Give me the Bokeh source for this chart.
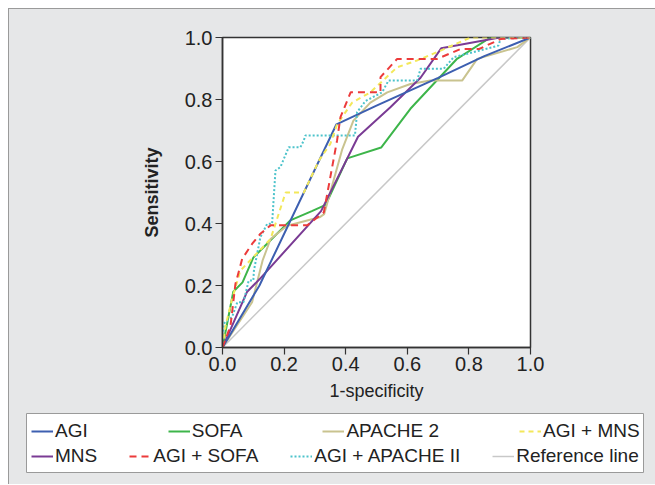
from bokeh.plotting import figure
from bokeh.layouts import column
from bokeh.models import Range1d, Legend, LegendItem, FixedTicker
from bokeh.embed import file_html
from bokeh.resources import INLINE

# ---- data ----
agi_x = [0.0, 0.03, 0.12, 0.37, 0.5, 0.7, 0.85, 1.0]
agi_y = [0.0, 0.05, 0.2, 0.72, 0.78, 0.87, 0.94, 1.0]

sofa_x = [0.0, 0.035, 0.065, 0.1, 0.16, 0.22, 0.29, 0.335, 0.405, 0.515, 0.61, 0.76, 0.87, 1.0]
sofa_y = [0.0, 0.18, 0.21, 0.29, 0.35, 0.41, 0.44, 0.46, 0.61, 0.645, 0.77, 0.93, 1.0, 1.0]

apache_x = [0.0, 0.096, 0.13, 0.156, 0.21, 0.315, 0.33, 0.389, 0.425, 0.48, 0.535, 0.61, 0.675, 0.778, 0.827, 0.957, 1.0]
apache_y = [0.0, 0.146, 0.28, 0.35, 0.393, 0.42, 0.43, 0.64, 0.732, 0.79, 0.823, 0.85, 0.861, 0.861, 0.931, 0.969, 1.0]

agimns_x = [0.0, 0.01, 0.03, 0.058, 0.156, 0.205, 0.264, 0.313, 0.35, 0.372, 0.421, 0.48, 0.567, 0.632, 0.697, 0.805, 1.0]
agimns_y = [0.0, 0.07, 0.152, 0.248, 0.35, 0.5, 0.5, 0.603, 0.657, 0.72, 0.79, 0.823, 0.904, 0.926, 0.953, 1.0, 1.0]

mns_x = [0.0, 0.08, 0.12, 0.32, 0.44, 0.545, 0.643, 0.71, 0.9, 1.0]
mns_y = [0.0, 0.18, 0.22, 0.44, 0.68, 0.775, 0.87, 0.965, 1.0, 1.0]

agisofa_x = [0.0, 0.026, 0.042, 0.064, 0.096, 0.123, 0.156, 0.275, 0.329, 0.372, 0.383, 0.416, 0.513, 0.513, 0.567, 0.697, 0.773, 0.833, 0.903, 1.0]
agisofa_y = [0.0, 0.07, 0.205, 0.286, 0.334, 0.367, 0.394, 0.394, 0.436, 0.668, 0.743, 0.823, 0.823, 0.872, 0.931, 0.931, 0.963, 0.963, 0.995, 1.0]

agiap_x = [0.0, 0.004, 0.031, 0.048, 0.068, 0.085, 0.1, 0.102, 0.123, 0.145, 0.161, 0.172, 0.188, 0.215, 0.253, 0.264, 0.269, 0.367, 0.43, 0.437, 0.464, 0.518, 0.539, 0.632, 0.643, 0.718, 0.75, 0.896, 0.903, 1.0]
agiap_y = [0.0, 0.077, 0.098, 0.146, 0.146, 0.216, 0.216, 0.248, 0.356, 0.399, 0.399, 0.571, 0.582, 0.646, 0.646, 0.668, 0.684, 0.684, 0.684, 0.759, 0.795, 0.823, 0.861, 0.861, 0.899, 0.899, 0.936, 0.974, 0.996, 1.0]

ref_x = [0.0, 1.0]
ref_y = [0.0, 1.0]

ticks = [0.0, 0.2, 0.4, 0.6, 0.8, 1.0]

legend_row1 = ["AGI", "SOFA", "APACHE 2", "AGI + MNS"]
legend_row2 = ["MNS", "AGI + SOFA", "AGI + APACHE II", "Reference line"]

FONT = "Liberation Sans"
BG = "#e6e7e8"

# styles per series
sty = {
    "AGI": dict(line_color="#3d5fb0", line_width=2),
    "SOFA": dict(line_color="#3db54a", line_width=2),
    "APACHE 2": dict(line_color="#c9c38f", line_width=2),
    "AGI + MNS": dict(line_color="#f3e85a", line_width=2, line_dash="5 4"),
    "MNS": dict(line_color="#7a3b94", line_width=2),
    "AGI + SOFA": dict(line_color="#ec3b3b", line_width=2, line_dash="7 5"),
    "AGI + APACHE II": dict(line_color="#4cc3cb", line_width=2, line_dash="2 2"),
    "Reference line": dict(line_color="#c8c8c8", line_width=1.5),
}
series = {
    "Reference line": (ref_x, ref_y),
    "SOFA": (sofa_x, sofa_y),
    "APACHE 2": (apache_x, apache_y),
    "MNS": (mns_x, mns_y),
    "AGI": (agi_x, agi_y),
    "AGI + APACHE II": (agiap_x, agiap_y),
    "AGI + MNS": (agimns_x, agimns_y),
    "AGI + SOFA": (agisofa_x, agisofa_y),
}

p = figure(output_backend="svg", toolbar_location=None,
           x_range=Range1d(0, 1), y_range=Range1d(0, 1),
           min_border_left=213, min_border_right=125, min_border_top=28, min_border_bottom=66)
p.frame_width = 308
p.frame_height = 310
p.frame_align = False
p.background_fill_color = "white"
p.border_fill_color = BG
p.outline_line_color = "#333333"
p.outline_line_width = 1.5
p.grid.visible = False

for ax in (p.xaxis[0], p.yaxis[0]):
    ax.ticker = FixedTicker(ticks=ticks)
    ax.major_label_text_font = FONT
    ax.major_label_text_font_size = "20px"
    ax.major_label_text_color = "#222222"
    ax.axis_label_text_font = FONT
    ax.axis_label_text_font_size = "18px"
    ax.axis_label_text_color = "#222222"
    ax.axis_label_text_font_style = "normal"
    ax.minor_tick_line_color = None
    ax.major_tick_out = 7
    ax.major_tick_in = 0
    ax.axis_line_color = "#333333"
    ax.major_tick_line_color = "#333333"
    ax.major_tick_line_width = 1.2
    ax.axis_line_width = 1.5

p.xaxis[0].axis_label = "1-specificity"
p.yaxis[0].axis_label = "Sensitivity"
p.yaxis[0].axis_label_text_font_style = "bold"
p.xaxis[0].major_label_standoff = 2
p.yaxis[0].major_label_standoff = 3
p.xaxis[0].axis_label_standoff = 7
p.yaxis[0].axis_label_standoff = 20
p.xaxis[0].major_label_overrides = {t: f"{t:.1f}" for t in ticks}
p.yaxis[0].major_label_overrides = {t: f"{t:.1f}" for t in ticks}

for name, (xs, ys) in series.items():
    p.line(xs, ys, **sty[name])

# legend panel: its frame is the white legend box; series drawn out of view
p2 = figure(output_backend="svg", toolbar_location=None,
            x_range=Range1d(5, 6), y_range=Range1d(5, 6),
            x_axis_location=None, y_axis_location=None,
            min_border_left=17, min_border_right=12, min_border_top=0, min_border_bottom=12)
p2.frame_width = 617
p2.frame_height = 59
p2.frame_align = False
p2.grid.visible = False
p2.outline_line_color = "#9a9a9a"
p2.outline_line_width = 1
p2.background_fill_color = "white"
p2.border_fill_color = BG

renderers = {}
for name in legend_row1 + legend_row2:
    xs, ys = series[name]
    renderers[name] = p2.line(xs, ys, **sty[name])

common = dict(orientation="horizontal", label_text_font=FONT, label_text_font_size="19px",
              label_text_color="#222222", glyph_width=22, glyph_height=14, label_standoff=2,
              padding=0, margin=0, border_line_color=None, background_fill_alpha=0,
              label_height=22)
leg1 = Legend(items=[LegendItem(label=n, renderers=[renderers[n]]) for n in legend_row1],
              location=(5, 30), spacing=80, **common)
leg2 = Legend(items=[LegendItem(label=n, renderers=[renderers[n]]) for n in legend_row2],
              location=(5, 5), spacing=32, **common)
p2.add_layout(leg1, "center")
p2.add_layout(leg2, "center")

page = column(p, p2, spacing=0)
page.styles = {"margin-left": "8px", "margin-top": "8px",
               "border-left": "1px solid #9a9a9a", "border-top": "1px solid #9a9a9a",
               "background-color": BG}

open("out.html", "w").write(file_html(page, INLINE))
